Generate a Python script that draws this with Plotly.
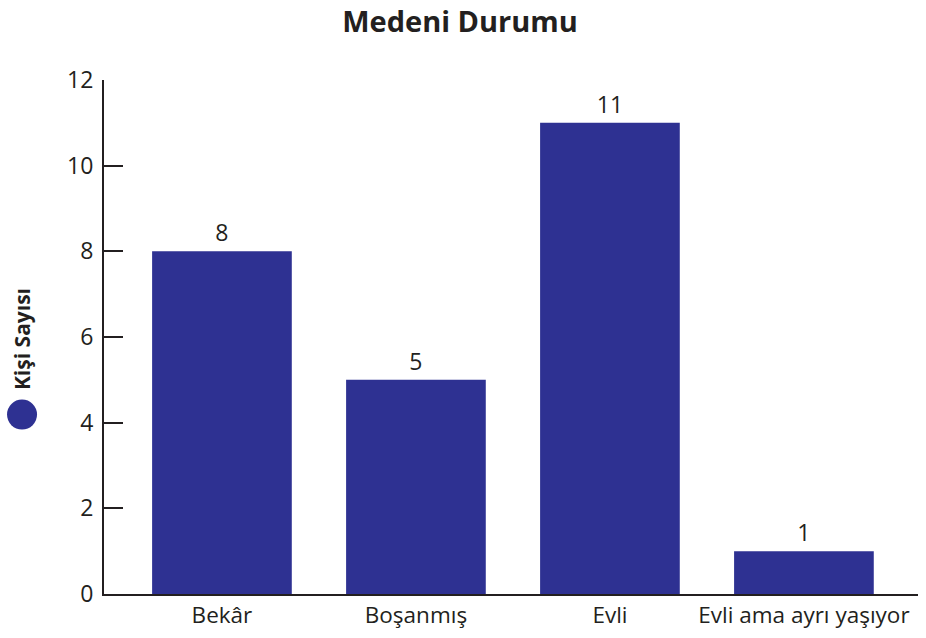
import plotly.graph_objects as go

categories = ["Bekâr", "Boşanmış", "Evli", "Evli ama ayrı yaşıyor"]
values = [8, 5, 11, 1]
y_ticks = [0, 2, 4, 6, 8, 10, 12]

bar_color = "#2E3192"
text_color = "#231F20"
font_family = "Open Sans, Noto Sans, sans-serif"

fig = go.Figure(go.Bar(
    x=categories, y=values, width=0.72,
    marker=dict(color=bar_color, line=dict(width=0)),
    text=[str(v) for v in values], textposition="outside",
    textfont=dict(size=23, color=text_color, family=font_family),
    cliponaxis=False,
))

fig.update_layout(
    width=926, height=638,
    margin=dict(l=104, r=8, t=80, b=42),
    paper_bgcolor="white", plot_bgcolor="white",
    showlegend=False,
    font=dict(family=font_family, color=text_color),
    title=dict(text="<b>Medeni Durumu</b>", x=0.4968, xanchor="center",
               y=0.9655, yanchor="middle",
               font=dict(size=29, color=text_color, family=font_family)),
)
fig.update_xaxes(
    type="category", range=[-0.608, 3.588],
    showline=True, linecolor=text_color, linewidth=2,
    ticks="", showgrid=False, zeroline=False,
    tickfont=dict(size=22.5, color=text_color, family=font_family),
)
fig.update_yaxes(
    range=[0, 12], tickvals=y_ticks,
    showline=True, linecolor=text_color, linewidth=2,
    ticks="inside", ticklen=19, tickwidth=2, tickcolor=text_color,
    showgrid=False, zeroline=False,
    tickfont=dict(size=23, color=text_color, family=font_family),
    ticklabelstandoff=4,
)
fig.add_annotation(
    text="<b>Kişi Sayısı</b>", textangle=-90,
    xref="paper", yref="paper", x=-0.1007, y=0.496,
    xanchor="center", yanchor="middle",
    showarrow=False,
    font=dict(size=21, color=text_color, family=font_family),
)
# legend-style circle marker next to the axis title
fig.add_shape(
    type="circle", xref="paper", yref="paper",
    xsizemode="pixel", ysizemode="pixel",
    xanchor=-0.1007, yanchor=0.349,
    x0=-15, x1=15, y0=-15, y1=15,
    fillcolor=bar_color, line=dict(width=0),
)
fig.write_html("out.html", config={"displayModeBar": False},
               post_script="document.body.style.margin='0px';")
